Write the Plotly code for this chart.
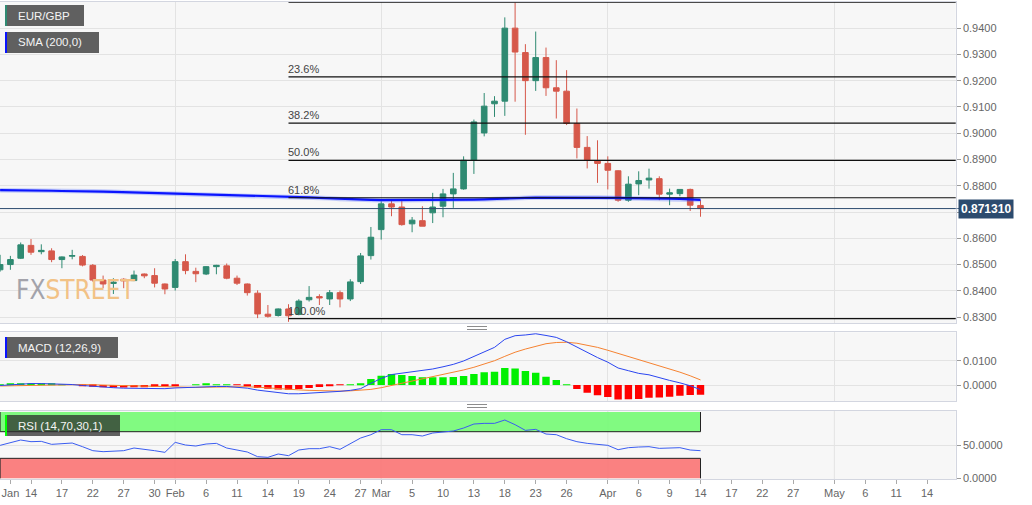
import pandas as pd
import plotly.graph_objects as go

W, H = 1032, 505

# ---------------- data ----------------
dates = pd.bdate_range("2020-01-09", "2020-04-14").strftime("%Y-%m-%d").tolist()
all_days = pd.bdate_range("2020-01-09", "2020-05-19").strftime("%Y-%m-%d").tolist()

open_ = [0.8480, 0.8500, 0.8524, 0.8573, 0.8549, 0.8552, 0.8519, 0.8532, 0.8531, 0.8497,
         0.8441, 0.8428, 0.8444, 0.8439, 0.8464, 0.8458, 0.8426, 0.8413, 0.8511, 0.8474,
         0.8464, 0.8492, 0.8495, 0.8448, 0.8426, 0.8391, 0.8311, 0.8306, 0.8331, 0.8310,
         0.8366, 0.8378, 0.8369, 0.8393, 0.8369, 0.8435, 0.8534, 0.8633, 0.8731, 0.8719,
         0.8655, 0.8667, 0.8697, 0.8722, 0.8769, 0.8788, 0.8897, 0.9001, 0.9112, 0.9122,
         0.9400, 0.9307, 0.9200, 0.9288, 0.9173, 0.9160, 0.9037, 0.8946, 0.8895, 0.8885,
         0.8857, 0.8745, 0.8807, 0.8822, 0.8827, 0.8768, 0.8770, 0.8786, 0.8725]
high = [0.8537, 0.8533, 0.8584, 0.8597, 0.8577, 0.8562, 0.8531, 0.8556, 0.8536, 0.8502,
        0.8458, 0.8448, 0.8448, 0.8477, 0.8466, 0.8486, 0.8428, 0.8521, 0.8539, 0.8488,
        0.8494, 0.8499, 0.8504, 0.8458, 0.8428, 0.8402, 0.8346, 0.8333, 0.8349, 0.8368,
        0.8418, 0.8387, 0.8403, 0.8401, 0.8444, 0.8544, 0.8643, 0.8741, 0.8743, 0.8743,
        0.8681, 0.8722, 0.8773, 0.8788, 0.8849, 0.8912, 0.9052, 0.9153, 0.9141, 0.9441,
        0.9497, 0.9339, 0.9387, 0.9326, 0.9278, 0.9240, 0.9094, 0.8989, 0.8973, 0.8912,
        0.8859, 0.8836, 0.8855, 0.8865, 0.8836, 0.8789, 0.8786, 0.8789, 0.8745]
low = [0.8473, 0.8480, 0.8521, 0.8537, 0.8539, 0.8509, 0.8486, 0.8520, 0.8493, 0.8435,
       0.8410, 0.8388, 0.8410, 0.8437, 0.8448, 0.8413, 0.8387, 0.8401, 0.8463, 0.8433,
       0.8460, 0.8463, 0.8444, 0.8422, 0.8382, 0.8296, 0.8298, 0.8302, 0.8282, 0.8307,
       0.8359, 0.8346, 0.8346, 0.8337, 0.8361, 0.8426, 0.8519, 0.8595, 0.8684, 0.8648,
       0.8623, 0.8646, 0.8658, 0.8680, 0.8716, 0.8785, 0.8845, 0.8988, 0.9062, 0.9066,
       0.9120, 0.8994, 0.9161, 0.9142, 0.9056, 0.9031, 0.8904, 0.8866, 0.8811, 0.8786,
       0.8739, 0.8739, 0.8764, 0.8789, 0.8745, 0.8726, 0.8760, 0.8704, 0.8682]
close = [0.8500, 0.8519, 0.8575, 0.8547, 0.8554, 0.8519, 0.8529, 0.8534, 0.8498, 0.8441,
         0.8426, 0.8433, 0.8438, 0.8460, 0.8457, 0.8429, 0.8407, 0.8511, 0.8477, 0.8465,
         0.8492, 0.8497, 0.8448, 0.8429, 0.8393, 0.8312, 0.8303, 0.8331, 0.8305, 0.8361,
         0.8375, 0.8373, 0.8393, 0.8369, 0.8434, 0.8533, 0.8604, 0.8731, 0.8719, 0.8652,
         0.8669, 0.8646, 0.8719, 0.8769, 0.8788, 0.8897, 0.9043, 0.9103, 0.9122, 0.9400,
         0.9309, 0.9200, 0.9288, 0.9173, 0.9160, 0.9037, 0.8946, 0.8898, 0.8885, 0.8859,
         0.8745, 0.8806, 0.8820, 0.8829, 0.8768, 0.8773, 0.8786, 0.8726, 0.87131]
sma200 = [0.8783, 0.8783, 0.8782, 0.8782, 0.8781, 0.8781, 0.8780, 0.8780, 0.8779, 0.8779,
          0.8778, 0.8777, 0.8776, 0.8775, 0.8774, 0.8773, 0.8772, 0.8771, 0.8770, 0.8769,
          0.8768, 0.8767, 0.8766, 0.8765, 0.8764, 0.8763, 0.8762, 0.8761, 0.8760, 0.8758,
          0.8756, 0.8754, 0.8752, 0.8750, 0.8748, 0.8747, 0.8746, 0.8745, 0.8745, 0.8745,
          0.8745, 0.8745, 0.8745, 0.8745, 0.8745, 0.8746, 0.8747, 0.8748, 0.8750, 0.8752,
          0.8753, 0.8754, 0.8755, 0.8755, 0.8756, 0.8756, 0.8755, 0.8755, 0.8755, 0.8754,
          0.8754, 0.8753, 0.8753, 0.8752, 0.8752, 0.8751, 0.8750, 0.8749, 0.8746]
macd_line = [-0.0002, 0.0001, 0.0004, 0.0006, 0.0006, 0.0005, 0.0004, 0.0002, -0.0002, -0.0006,
             -0.0009, -0.0011, -0.0013, -0.0014, -0.0015, -0.0016, -0.0015, -0.0012, -0.0010, -0.0008,
             -0.0006, -0.0006, -0.0006, -0.0008, -0.0013, -0.0021, -0.0026, -0.0032, -0.0036, -0.0036,
             -0.0034, -0.0032, -0.0029, -0.0026, -0.0022, -0.0015, 0.0007, 0.0027, 0.0043, 0.0049,
             0.0054, 0.0058, 0.0066, 0.0075, 0.0085, 0.0099, 0.0118, 0.0139, 0.0155, 0.0188,
             0.0203, 0.0206, 0.0211, 0.0204, 0.0196, 0.0178, 0.0156, 0.0132, 0.0113, 0.0094,
             0.0070, 0.0059, 0.0048, 0.0042, 0.0029, 0.0019, 0.0009, -0.0003, -0.0019]
macd_signal = [-0.0004, -0.0003, -0.0002, -0.0001, 0.0000, 0.0001, 0.0002, 0.0002, 0.0002, 0.0001,
               0.0000, -0.0001, -0.0003, -0.0005, -0.0006, -0.0008, -0.0009, -0.0010, -0.0010, -0.0010,
               -0.0009, -0.0008, -0.0007, -0.0007, -0.0007, -0.0009, -0.0011, -0.0014, -0.0017, -0.0020,
               -0.0022, -0.0024, -0.0025, -0.0025, -0.0024, -0.0022, -0.0018, -0.0011, -0.0002, 0.0008,
               0.0017, 0.0026, 0.0034, 0.0043, 0.0052, 0.0062, 0.0073, 0.0086, 0.0100, 0.0118,
               0.0135, 0.0148, 0.0160, 0.0170, 0.0175, 0.0176, 0.0172, 0.0164, 0.0155, 0.0143,
               0.0130, 0.0118, 0.0106, 0.0094, 0.0080, 0.0067, 0.0053, 0.0038, 0.0021]
macd_hist = [0.0002, 0.0004, 0.0006, 0.0007, 0.0006, 0.0004, 0.0002, 0.0000, -0.0004, -0.0007,
             -0.0009, -0.0010, -0.0010, -0.0009, -0.0009, -0.0008, -0.0006, -0.0002, 0.0000, 0.0002,
             0.0003, 0.0002, 0.0001, -0.0001, -0.0006, -0.0012, -0.0015, -0.0018, -0.0019, -0.0016,
             -0.0012, -0.0008, -0.0004, -0.0001, 0.0002, 0.0007, 0.0025, 0.0038, 0.0045, 0.0041,
             0.0037, 0.0032, 0.0032, 0.0032, 0.0033, 0.0037, 0.0045, 0.0053, 0.0055, 0.0070,
             0.0068, 0.0058, 0.0051, 0.0034, 0.0021, 0.0002, -0.0016, -0.0032, -0.0042, -0.0049,
             -0.0060, -0.0059, -0.0058, -0.0052, -0.0051, -0.0048, -0.0044, -0.0041, -0.0040]
rsi = [49.5, 53, 57.5, 55, 55.5, 51, 52, 53, 47.5, 41.5,
       40, 40.5, 41.5, 45.5, 44, 41.5, 39, 54, 50, 48.5,
       51.5, 52.5, 45.5, 43, 39.5, 32.5, 31.5, 36.5, 34, 42.5,
       44.5, 44.5, 47.5, 43.5, 52, 60.5, 65.5, 73, 73, 65.5,
       65.5, 63.5, 68, 70, 71, 75.5, 81.5, 82.5, 82.5, 87.5,
       80.5, 72, 73.5, 66.5, 65.5, 59.5, 55, 52.5, 50.5, 49.5,
       43, 46, 47, 47.5, 45, 45, 46, 42.5, 41.5]

fib_start = "2020-02-18"
fib_low, fib_high = 0.8294, 0.9499
fib_ratios = [0.0, 0.236, 0.382, 0.5, 0.618, 1.0]
fib_labels = ["", "23.6%", "38.2%", "50.0%", "61.8%", "100.0%"]
last_price = 0.87131

tick_dates = ["2020-01-10", "2020-01-14", "2020-01-17", "2020-01-22", "2020-01-27", "2020-01-30",
              "2020-02-03", "2020-02-06", "2020-02-11", "2020-02-14", "2020-02-19", "2020-02-24",
              "2020-02-27", "2020-03-02", "2020-03-05", "2020-03-10", "2020-03-13", "2020-03-18",
              "2020-03-23", "2020-03-26", "2020-04-01", "2020-04-06", "2020-04-09", "2020-04-14",
              "2020-04-17", "2020-04-22", "2020-04-27", "2020-05-01", "2020-05-06", "2020-05-11",
              "2020-05-14"]
tick_text = ["Jan", "14", "17", "22", "27", "30", "Feb", "6", "11", "14", "19", "24", "27", "Mar",
             "5", "10", "13", "18", "23", "26", "Apr", "6", "9", "14", "17", "22", "27", "May",
             "6", "11", "14"]
month_dates = ["2020-02-03", "2020-03-02", "2020-04-01", "2020-05-01"]
price_ticks = [0.83, 0.84, 0.85, 0.86, 0.87, 0.88, 0.89, 0.90, 0.91, 0.92, 0.93, 0.94]
# the 0.8700 label is hidden behind the last-price marker in the reference
price_tick_text = ["0.8300", "0.8400", "0.8500", "0.8600", "", "0.8800", "0.8900", "0.9000",
                   "0.9100", "0.9200", "0.9300", "0.9400"]

# ---------------- styles ----------------
FONT = "Liberation Sans, Arial, sans-serif"
GREEN_C = "#2f8a72"
RED_C = "#d6584a"
GRID = "#e3e3e3"
BORDER = "#d3d6e0"
TICKC = "#666666"
XR = 0.9261


def px(x):
    return x / W


def py(y):
    return 1 - y / H


fig = go.Figure()

fig.add_trace(go.Candlestick(
    x=dates, open=open_, high=high, low=low, close=close,
    increasing=dict(line=dict(color=GREEN_C, width=1), fillcolor=GREEN_C),
    decreasing=dict(line=dict(color=RED_C, width=1), fillcolor=RED_C),
    whiskerwidth=0, xaxis="x", yaxis="y", hoverinfo="skip"))
fig.add_trace(go.Scatter(x=dates, y=sma200, mode="lines",
                         line=dict(color="rgba(70,100,255,0.3)", width=4.5),
                         xaxis="x", yaxis="y", hoverinfo="skip"))
fig.add_trace(go.Scatter(x=dates, y=sma200, mode="lines",
                         line=dict(color="#0a14ff", width=2.2),
                         xaxis="x", yaxis="y", hoverinfo="skip"))

fig.add_trace(go.Bar(x=dates, y=macd_hist,
                     marker=dict(color=["#00f000" if v >= 0 else "#ff0000" for v in macd_hist],
                                 line=dict(width=0)),
                     xaxis="x2", yaxis="y2", hoverinfo="skip"))
fig.add_trace(go.Scatter(x=dates, y=macd_signal, mode="lines",
                         line=dict(color="#f58231", width=1), xaxis="x2", yaxis="y2",
                         hoverinfo="skip"))
fig.add_trace(go.Scatter(x=dates, y=macd_line, mode="lines",
                         line=dict(color="#2a45f0", width=1), xaxis="x2", yaxis="y2",
                         hoverinfo="skip"))

fig.add_trace(go.Scatter(x=dates, y=rsi, mode="lines",
                         line=dict(color="#3a5cf0", width=1), xaxis="x3", yaxis="y3",
                         hoverinfo="skip"))

xcommon = dict(type="category", categoryarray=all_days, categoryorder="array",
               range=[-0.01, 92.78], domain=[0, XR], showline=True, mirror=True,
               linecolor=BORDER, linewidth=1, zeroline=False, fixedrange=True,
               automargin=False)
ycommon = dict(side="right", showline=True, mirror=True, linecolor=BORDER, linewidth=1,
               gridcolor=GRID, gridwidth=1, zeroline=False, ticks="outside", ticklen=4,
               tickcolor="#9a9a9a", tickformat=".4f", automargin=False,
               tickfont=dict(family=FONT, size=11, color=TICKC))

fig.update_layout(
    width=W, height=H, margin=dict(l=0, r=0, t=0, b=0, autoexpand=False),
    paper_bgcolor="white", plot_bgcolor="#f7f7f7",
    showlegend=False, hovermode=False, boxgap=0.22, bargap=0.28,
    font=dict(family=FONT),
    xaxis=dict(**xcommon, anchor="y", tickvals=month_dates, showticklabels=False,
               showgrid=True, gridcolor=GRID, ticks="", rangeslider=dict(visible=False)),
    xaxis2=dict(**xcommon, anchor="y2", tickvals=month_dates, showticklabels=False,
                showgrid=True, gridcolor=GRID, ticks=""),
    xaxis3=dict(**xcommon, anchor="y3", tickvals=tick_dates, ticktext=tick_text,
                showgrid=False, ticks="outside", ticklen=4, tickcolor="#aaaaaa",
                tickfont=dict(family=FONT, size=11, color=TICKC)),
    yaxis=dict(**ycommon, domain=[py(323), py(2)], range=[0.82775, 0.94995],
               tickvals=price_ticks, ticktext=price_tick_text),
    yaxis2=dict(**ycommon, domain=[py(401.3), py(332.3)], range=[-0.0067, 0.0217],
                tickvals=[0.0, 0.01]),
    yaxis3=dict(**ycommon, domain=[py(479), py(410.7)], range=[-1, 101.5],
                tickvals=[0, 50]),
)

shapes = []
annotations = []

# month gridlines in RSI panel
for d in month_dates:
    shapes.append(dict(type="line", xref="x3", yref="y3 domain", x0=d, x1=d, y0=0, y1=1,
                       line=dict(color=GRID, width=1), layer="below"))

# RSI bands
shapes.append(dict(type="rect", xref="x3", yref="y3", x0=dates[0], x1=dates[-1], y0=70, y1=99.5,
                   fillcolor="rgba(118,250,118,0.92)", line=dict(width=0), layer="below"))
shapes.append(dict(type="rect", xref="x3", yref="y3", x0=dates[0], x1=dates[-1], y0=0, y1=30,
                   fillcolor="rgba(250,118,118,0.92)", line=dict(width=0), layer="below"))
band_line = dict(color="#222222", width=1)
for (ya, yb) in [(70, 99.5), (0, 30)]:
    shapes.append(dict(type="line", xref="x3", yref="y3", x0=dates[-1], x1=dates[-1], y0=ya, y1=yb,
                       line=band_line, layer="below"))
    shapes.append(dict(type="line", xref="x3", yref="y3", x0=dates[0], x1=dates[0], y0=ya, y1=yb,
                       line=band_line, layer="below"))
shapes.append(dict(type="line", xref="x3", yref="y3", x0=dates[0], x1=dates[-1], y0=70, y1=70,
                   line=band_line, layer="below"))
shapes.append(dict(type="line", xref="x3", yref="y3", x0=dates[0], x1=dates[-1], y0=30, y1=30,
                   line=band_line, layer="below"))

# Fibonacci levels
for r, lab in zip(fib_ratios, fib_labels):
    lvl = fib_high - r * (fib_high - fib_low)
    shapes.append(dict(type="line", xref="x", yref="y", x0=fib_start, x1=all_days[-1],
                       y0=lvl, y1=lvl, line=dict(color="#111111", width=1.2)))
    if lab:
        annotations.append(dict(xref="x", yref="y", x=fib_start, y=lvl, text=lab,
                                xanchor="left", yanchor="bottom", xshift=-3, yshift=0,
                                showarrow=False,
                                font=dict(family=FONT, size=11, color="#444444")))

# last price line & label
shapes.append(dict(type="line", xref="paper", yref="y", x0=0, x1=XR, y0=last_price,
                   y1=last_price, line=dict(color="#2c4b6e", width=1)))
shapes.append(dict(type="path", xref="paper", yref="y",
                   path=f"M {px(954.5)},{last_price} L {px(959)},{last_price + 0.00018} "
                        f"L {px(959)},{last_price - 0.00018} Z",
                   fillcolor="#2c4b6e", line=dict(width=0)))
annotations.append(dict(xref="paper", yref="y", x=px(958), y=last_price,
                        text="<b>0.871310</b>", xanchor="left", yanchor="middle",
                        showarrow=False, bgcolor="#2c4b6e", borderpad=2,
                        font=dict(family=FONT, size=12, color="white")))

# legend boxes
boxes = [("EUR/GBP", 5, 84, 5, 26, GREEN_C),
         ("SMA (200,0)", 5, 99, 32, 53, "#0a14ff"),
         ("MACD (12,26,9)", 5, 118, 337, 358, "#0a14ff"),
         ("RSI (14,70,30,1)", 5, 120, 415, 436, "#00ff00")]
for text, x0, x1, y0, y1, sc in boxes:
    shapes.append(dict(type="rect", xref="paper", yref="paper", x0=px(x0), x1=px(x1),
                       y0=py(y1), y1=py(y0), fillcolor="rgba(45,45,45,0.75)",
                       line=dict(width=0)))
    shapes.append(dict(type="rect", xref="paper", yref="paper", x0=px(x0), x1=px(x0 + 2),
                       y0=py(y1), y1=py(y0), fillcolor=sc, line=dict(width=0)))
    annotations.append(dict(xref="paper", yref="paper", x=px(16), y=py((y0 + y1) / 2),
                            text=text, xanchor="left", yanchor="middle", showarrow=False,
                            font=dict(family=FONT, size=11.5, color="#f4f4f4")))

# panel handles
for ys in [(326.5, 329.5), (404.5, 407.5)]:
    for yv in ys:
        shapes.append(dict(type="line", xref="paper", yref="paper", x0=px(467), x1=px(487),
                           y0=py(yv), y1=py(yv), line=dict(color="#8c8c8c", width=1)))

# watermark
annotations.append(dict(xref="paper", yref="paper", x=px(14), y=py(290),
                        text="<span style='color:#a3a3ab'>FX</span>"
                             "<span style='color:#f2c286'>STREET</span>",
                        xanchor="left", yanchor="middle", showarrow=False,
                        font=dict(family="Liberation Sans Narrow, DejaVu Sans Condensed, Arial Narrow, sans-serif",
                                  size=26, color="#a3a3ab")))

fig.update_layout(shapes=shapes, annotations=annotations)
fig.write_html("out.html")
